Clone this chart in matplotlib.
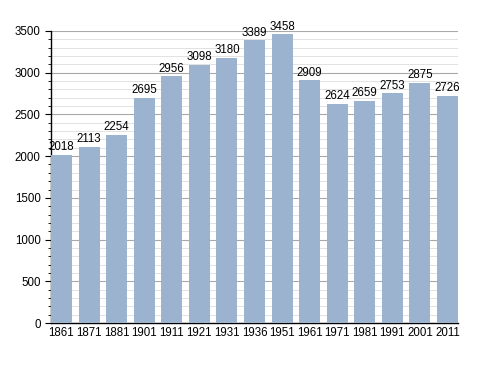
import numpy as np
import matplotlib

matplotlib.use("Agg")
import matplotlib.pyplot as plt
from matplotlib.ticker import MultipleLocator

years = ["1861", "1871", "1881", "1901", "1911", "1921", "1931", "1936",
         "1951", "1961", "1971", "1981", "1991", "2001", "2011"]
population = [2018, 2113, 2254, 2695, 2956, 3098, 3180, 3389,
              3458, 2909, 2624, 2659, 2753, 2875, 2726]

plt.rcParams["font.family"] = ["Liberation Sans", "DejaVu Sans"]

fig = plt.figure(figsize=(4.88, 3.73), dpi=100)
ax = fig.add_axes([0.1045, 0.134, 0.834, 0.783])

x = np.arange(len(years))
w = 0.76
ax.bar(x, population, width=w, color="#9bb3cf", zorder=3)
for xi, v in zip(x, population):
    ax.text(xi, v + 20, str(v), ha="center", va="bottom", fontsize=8.3, zorder=4)

ax.set_xlim(-w / 2, len(years) - 1 + w / 2)
ax.set_ylim(0, 3500)
ax.set_xticks(x)
ax.set_xticklabels(years, fontsize=8.3)
ax.yaxis.set_major_locator(MultipleLocator(500))
ax.yaxis.set_minor_locator(MultipleLocator(100))
ax.tick_params(axis="y", labelsize=8.3, length=4, width=0.8)
ax.tick_params(axis="y", which="minor", length=2.5, width=0.6)
ax.tick_params(axis="x", length=0, pad=3)

ax.grid(True, which="major", axis="y", color="#a8a8a8", lw=0.8, zorder=0)
ax.grid(True, which="minor", axis="y", color="#e2e2e2", lw=0.7, zorder=0)
for s in ["top", "right"]:
    ax.spines[s].set_visible(False)
ax.spines["left"].set_linewidth(1.0)
ax.spines["bottom"].set_linewidth(1.0)

fig.savefig("out.png", dpi=100)
